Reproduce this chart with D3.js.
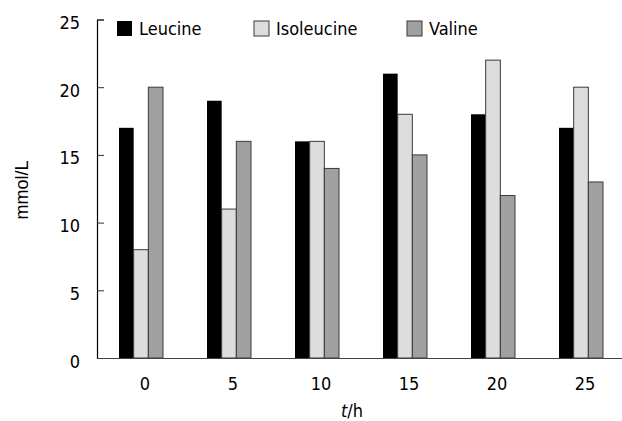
<!DOCTYPE html>
<html>
<head>
<meta charset="utf-8">
<script src="https://cdn.jsdelivr.net/npm/d3@7"></script>
<style>
  body { margin: 0; background: #fff; }
  text { font-family: "DejaVu Sans Condensed", "DejaVu Sans", sans-serif; }
</style>
</head>
<body>
<script>
const hours = ["0", "5", "10", "15", "20", "25"];
const series = ["Leucine", "Isoleucine", "Valine"];
const leucine = [17, 19, 16, 21, 18, 17];
const isoleucine = [8, 11, 16, 18, 22, 20];
const valine = [20, 16, 14, 15, 12, 13];
const yTicks = [0, 5, 10, 15, 20, 25];
const fills = ["#000000", "#dcdddc", "#a0a0a0"];

const width = 622;
const height = 421;
const values = [leucine, isoleucine, valine];

const svg = d3.select("body")
  .append("svg")
  .attr("width", width)
  .attr("height", height);

const xScale = d3.scaleBand()
  .domain(hours)
  .range([97, 625])
  .paddingInner(0.5)
  .paddingOuter(0.25);

const inner = d3.scaleBand()
  .domain(series)
  .range([0, xScale.bandwidth()]);

const yScale = d3.scaleLinear()
  .domain([0, 25])
  .range([358, 19.5]);

// bars
series.forEach((s, i) => {
  svg.append("g")
    .selectAll("rect")
    .data(hours)
    .enter()
    .append("rect")
    .attr("x", d => xScale(d) + inner(s))
    .attr("y", (d, j) => yScale(values[i][j]))
    .attr("width", inner.bandwidth())
    .attr("height", (d, j) => yScale(0) - yScale(values[i][j]))
    .attr("fill", fills[i])
    .attr("stroke", i === 0 ? "none" : "#3a3a3a")
    .attr("stroke-width", 1);
});

// y axis
const yAxis = d3.axisRight(yScale)
  .tickValues(yTicks)
  .tickSize(7)
  .tickFormat(d3.format("d"));

const yg = svg.append("g")
  .attr("transform", "translate(97,0)")
  .call(yAxis);
yg.select(".domain").attr("stroke", "#000").attr("stroke-width", 1.2);
yg.selectAll(".tick line").attr("stroke", "#333");
yg.selectAll(".tick text")
  .attr("x", -17)
  .attr("dy", "0.5em")
  .attr("text-anchor", "end")
  .attr("font-size", 18)
  .attr("fill", "#000");

// x axis
const xAxis = d3.axisBottom(xScale).tickSize(0).tickPadding(0);
const xg = svg.append("g")
  .attr("transform", "translate(0,358)")
  .call(xAxis);
xg.select(".domain").attr("stroke", "#444").attr("stroke-width", 1.2);
xg.selectAll(".tick text")
  .attr("x", 4)
  .attr("y", 32)
  .attr("dy", 0)
  .attr("font-size", 18)
  .attr("fill", "#000");

// axis titles
svg.append("text")
  .attr("transform", "translate(28,190) rotate(-90)")
  .attr("text-anchor", "middle")
  .attr("font-size", 18)
  .style("font-family", "'Liberation Sans', Arial, sans-serif")
  .text("mmol/L");

const xt = svg.append("text")
  .attr("x", 352)
  .attr("y", 417)
  .attr("text-anchor", "middle")
  .attr("font-size", 18);
xt.append("tspan").attr("font-style", "italic").text("t");
xt.append("tspan").text("/h");

// legend
const legendX = [117, 254, 407];
series.forEach((s, i) => {
  svg.append("rect")
    .attr("x", legendX[i])
    .attr("y", 21)
    .attr("width", 15)
    .attr("height", 15)
    .attr("fill", fills[i])
    .attr("stroke", i === 0 ? "none" : "#3a3a3a");
  svg.append("text")
    .attr("x", legendX[i] + 22)
    .attr("y", 34.5)
    .attr("font-size", 18)
    .text(s);
});
</script>
</body>
</html>
